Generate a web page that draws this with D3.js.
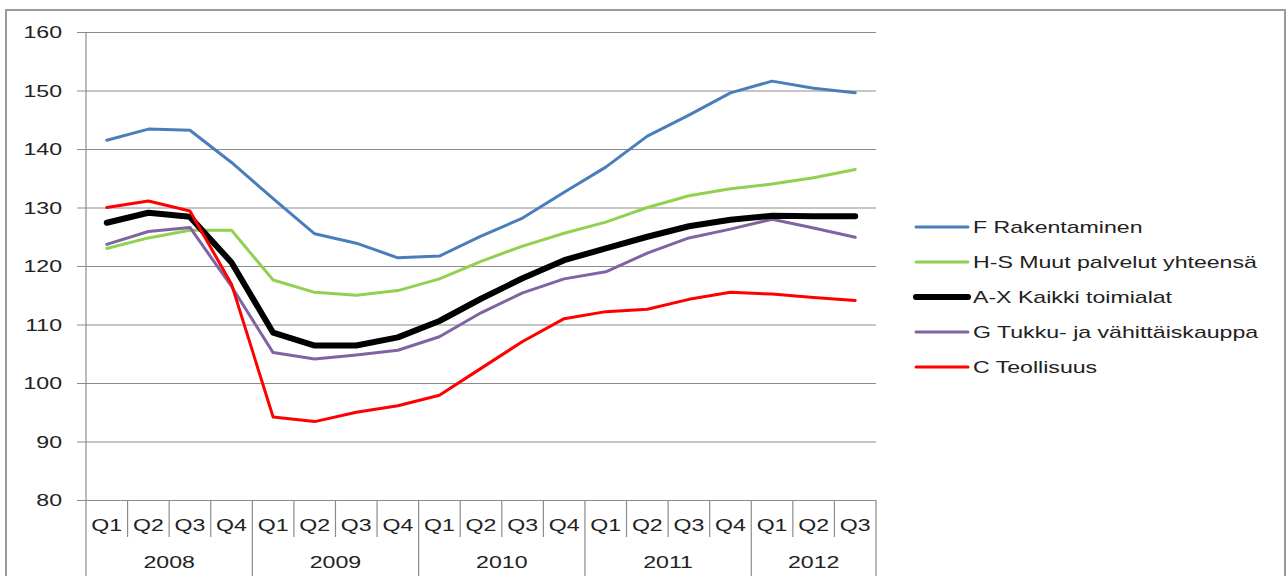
<!DOCTYPE html>
<html><head><meta charset="utf-8">
<script src="https://cdn.jsdelivr.net/npm/d3@7"></script>
<style>body{margin:0;background:#fff}svg{display:block}</style>
</head><body><svg id="c" width="1288" height="576"></svg>
<script>
const years = ["2008","2009","2010","2011","2012"];
const quarters = ["Q1","Q2","Q3","Q4","Q1","Q2","Q3","Q4","Q1","Q2","Q3","Q4","Q1","Q2","Q3","Q4","Q1","Q2","Q3"];
const yTicks = [80,90,100,110,120,130,140,150,160];
const seriesNames = ["F Rakentaminen","H-S Muut palvelut yhteensä","A-X Kaikki toimialat","G Tukku- ja vähittäiskauppa","C Teollisuus"];
const fRakentaminen = [141.5,143.4,143.2,137.7,131.5,125.5,123.9,121.4,121.7,125.1,128.2,132.6,136.9,142.2,145.8,149.6,151.6,150.4,149.6];
const hsMuut = [123.0,124.8,126.1,126.1,117.6,115.5,115.0,115.8,117.8,120.8,123.4,125.6,127.5,130.0,132.0,133.2,134.0,135.1,136.5];
const axKaikki = [127.4,129.1,128.4,120.6,108.6,106.4,106.4,107.8,110.6,114.4,117.9,121.0,123.0,125.0,126.8,127.9,128.6,128.5,128.5];
const gTukku = [123.7,125.9,126.6,116.5,105.2,104.1,104.8,105.6,107.9,112.0,115.4,117.8,119.0,122.2,124.8,126.3,128.0,126.5,124.9];
const cTeollisuus = [130.0,131.1,129.4,116.9,94.2,93.4,95.0,96.1,97.9,102.5,107.1,111.0,112.2,112.6,114.3,115.5,115.2,114.6,114.1];
const seriesValues = [fRakentaminen, hsMuut, axKaikki, gTukku, cTeollisuus];
const colors = ["#4a7ebb","#92d050","#000000","#8064a2","#ff0000"];
const widths = [3,3,6,3,3];

const svg = d3.select("#c");
const L = 86, R = 876, T = 32, B = 500;
const sx = 1.36; // horizontal stretch of text
const font = "'Liberation Sans', Arial, sans-serif";

// outer border
svg.append("rect").attr("x",6).attr("y",10).attr("width",1279).attr("height",580)
  .attr("fill","none").attr("stroke","#9a9a9a").attr("stroke-width",2);

const y = d3.scaleLinear().domain([80,160]).range([B,T]);
const x = d3.scaleBand().domain(d3.range(quarters.length)).range([L,R]).padding(0);

function stext(g, tx, ty, str, anchor){
  return g.append("text").attr("transform",`translate(${tx},${ty}) scale(${sx},1)`)
    .attr("text-anchor",anchor).attr("font-family",font).attr("font-size",17).attr("fill","#222").text(str);
}

// gridlines via axis
const ga = svg.append("g").attr("transform",`translate(${L},0)`)
  .call(d3.axisLeft(y).tickValues(yTicks).tickSize(-(R-L)).tickFormat(""));
ga.selectAll(".tick line").attr("stroke","#8c8c8c").attr("stroke-width",1.2).attr("x1",-9);
ga.select(".domain").remove();
yTicks.forEach(v=>stext(svg, 62, y(v)+6, String(v), "end"));

// y axis line
svg.append("line").attr("x1",L).attr("x2",L).attr("y1",T).attr("y2",576).attr("stroke","#8c8c8c").attr("stroke-width",1.2);
svg.append("line").attr("x1",R).attr("x2",R).attr("y1",B).attr("y2",576).attr("stroke","#8c8c8c").attr("stroke-width",1.2);

// quarter separators
for(let i=1;i<quarters.length;i++){
  const xx = x(i);
  const yearSep = (i%4===0);
  svg.append("line").attr("x1",xx).attr("x2",xx).attr("y1",B).attr("y2",yearSep?576:537)
    .attr("stroke","#8c8c8c").attr("stroke-width",1.2);
}
quarters.forEach((q,i)=>stext(svg, x(i)+x.bandwidth()/2, 531, q, "middle"));
years.forEach((yr,k)=>{
  const i0 = k*4, i1 = Math.min(k*4+4, quarters.length);
  const cx = (x(i0) + x(i1-1)+x.bandwidth())/2;
  stext(svg, cx, 568, yr, "middle");
});

// lines
const line = d3.line().x((d,i)=>x(i)+x.bandwidth()/2).y(d=>y(d));
const order = [0,1,3,2,4];
order.forEach(s=>{
  svg.append("path").datum(seriesValues[s]).attr("d",line).attr("fill","none")
    .attr("stroke",colors[s]).attr("stroke-width",widths[s]).attr("stroke-linejoin","round").attr("stroke-linecap","round");
});

// legend
const legY = [227,262,297,332,367];
seriesNames.forEach((n,s)=>{
  svg.append("line").attr("x1",916).attr("x2",968).attr("y1",legY[s]).attr("y2",legY[s])
    .attr("stroke",colors[s]).attr("stroke-width",widths[s]).attr("stroke-linecap","round");
  stext(svg, 973, legY[s]+6, n, "start");
});
</script></body></html>
